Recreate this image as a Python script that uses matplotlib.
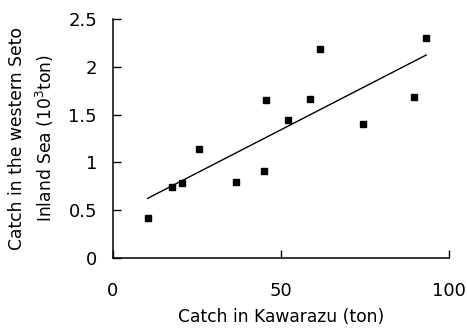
import numpy as np
import matplotlib.pyplot as plt

plt.rcParams["font.family"] = ["DejaVu Sans"]

# catch in Kawarazu (ton) vs catch in western Seto Inland Sea (10^3 ton)
kawarazu = [10.3, 17.6, 20.4, 25.7, 36.5, 44.8, 45.6, 52.2, 58.7, 61.6, 74.5, 89.7, 93.2]
seto = [0.42, 0.74, 0.78, 1.135, 0.79, 0.91, 1.65, 1.44, 1.66, 2.19, 1.40, 1.68, 2.30]
x_ticks = [0, 50, 100]
y_ticks = [0, 0.5, 1, 1.5, 2, 2.5]
y_tick_labels = ["0", "0.5", "1", "1.5", "2", "2.5"]

fig = plt.figure(figsize=(4.67, 3.28), dpi=100)
ax = fig.add_axes([113 / 467, 70 / 328, 336 / 467, 239 / 328])

ax.plot(kawarazu, seto, "s", color="black", markersize=3.8)

# least squares line over the data range
slope, intercept = np.polyfit(kawarazu, seto, 1)
xs = np.array([min(kawarazu), max(kawarazu)])
ax.plot(xs, slope * xs + intercept, color="black", linewidth=1.0)

ax.set_xlim(0, 100)
ax.set_ylim(0, 2.5)
ax.set_xticks(x_ticks)
ax.set_yticks(y_ticks)
ax.set_yticklabels(y_tick_labels)
ax.tick_params(direction="in", length=5.5, width=1.0, labelsize=13, pad=11.5)
ax.tick_params(axis="x", pad=17)

for side in ["top", "right"]:
    ax.spines[side].set_visible(False)
for side in ["left", "bottom"]:
    ax.spines[side].set_linewidth(1.1)

ax.set_xlabel("Catch in Kawarazu (ton)", fontsize=12.3, labelpad=6)
ax.set_ylabel("Catch in the western Seto\nInland Sea (10$^3$ton)", fontsize=12.3,
              labelpad=9, linespacing=1.4)

fig.savefig("out.png", dpi=100)
